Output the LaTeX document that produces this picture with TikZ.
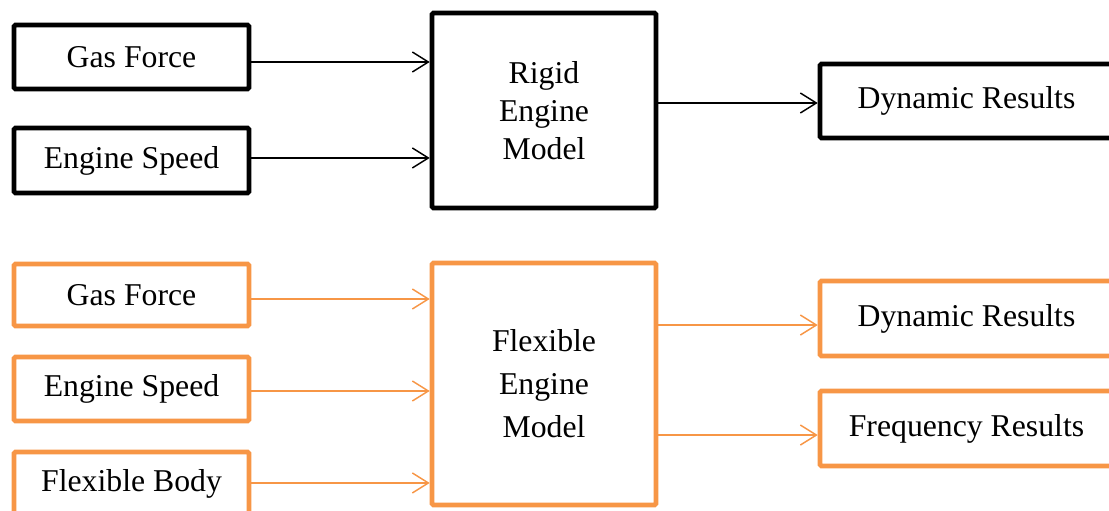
\documentclass[tikz,border=0pt]{standalone}
\usepackage{fontspec}
\setmainfont{Liberation Serif}
\usetikzlibrary{arrows.meta}
\definecolor{boxorange}{HTML}{F79646}
\tikzset{
  box/.style={draw, line width=3.4pt, rounded corners=1pt, fill=white, inner sep=0pt, align=center,
    font=\fontsize{23.8}{28.5}\selectfont},
  obox/.style={box, draw=boxorange},
  arr/.style={line width=1.1pt, -{Straight Barb[length=12pt,width=15pt]}},
  oarr/.style={arr, draw=boxorange},
}
\begin{document}
\begin{tikzpicture}[x=0.75pt,y=-0.75pt]
\useasboundingbox (0,0) rectangle (1109,510);
\clip (0,0) rectangle (1109,510);
% black (rigid)
\node[box, minimum width=176.25pt, minimum height=48pt] (gf1) at (131.5,57) {Gas Force};
\node[box, minimum width=176.25pt, minimum height=48.75pt] (es1) at (131.5,160.5) {Engine Speed};
\node[box, minimum width=168pt, minimum height=146.25pt] (rigid) at (544,110.5) {\raisebox{-1.5pt}{}Rigid\\Engine\\Model};
\node[box, minimum width=219.75pt, minimum height=55.5pt] (dr1) at (966.5,101) {\raisebox{-2pt}{Dynamic Results}};
\draw[arr] ([yshift=-3.75pt]gf1.east) -- ([yshift=-3.75pt]gf1.east -| rigid.west);
\draw[arr] ([yshift=1.9pt]es1.east) -- ([yshift=1.9pt]es1.east -| rigid.west);
\draw[arr] ([yshift=-1.5pt]dr1.west -| rigid.east) -- ([yshift=-1.5pt]dr1.west);
% orange (flexible)
\node[obox, minimum width=176.25pt, minimum height=46.5pt] (gf2) at (131.5,295) {Gas Force};
\node[obox, minimum width=176.25pt, minimum height=48pt] (es2) at (131.5,389) {Engine Speed};
\node[obox, minimum width=176.25pt, minimum height=47.25pt] (fb) at (131.5,483.5) {Flexible Body};
\node[obox, minimum width=168pt, minimum height=181.5pt, font=\fontsize{23.8}{32.3}\selectfont] (fem) at (544,384) {Flexible\\Engine\\Model};
\node[obox, minimum width=219.75pt, minimum height=56.25pt] (dr2) at (966.5,318.5) {\raisebox{-2pt}{Dynamic Results}};
\node[obox, minimum width=219.75pt, minimum height=56.25pt] (fr) at (966.5,428.5) {\raisebox{-2pt}{Frequency Results}};
\draw[oarr] ([yshift=-3pt]gf2.east) -- ([yshift=-3pt]gf2.east -| fem.west);
\draw[oarr] ([yshift=-1.5pt]es2.east) -- ([yshift=-1.5pt]es2.east -| fem.west);
\draw[oarr] ([yshift=0.4pt]fb.east) -- ([yshift=0.4pt]fb.east -| fem.west);
\draw[oarr] ([yshift=-4.9pt]dr2.west -| fem.east) -- ([yshift=-4.9pt]dr2.west);
\draw[oarr] ([yshift=-4.9pt]fr.west -| fem.east) -- ([yshift=-4.9pt]fr.west);
\end{tikzpicture}
\end{document}
